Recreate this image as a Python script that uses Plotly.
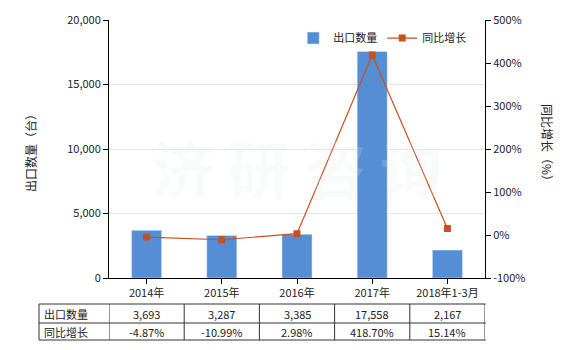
import plotly.graph_objects as go

categories = ["2014年", "2015年", "2016年", "2017年", "2018年1-3月"]
export_qty = [3693, 3287, 3385, 17558, 2167]
yoy_growth = [-4.87, -10.99, 2.98, 418.70, 15.14]
qty_labels = ["3,693", "3,287", "3,385", "17,558", "2,167"]
yoy_labels = ["-4.87%", "-10.99%", "2.98%", "418.70%", "15.14%"]
y2_ticks = [-100, 0, 100, 200, 300, 400, 500]

FONT = "Noto Sans CJK SC"
BAR_COLOR = "#558ed5"
LINE_COLOR = "#c8501e"

fig = go.Figure()
fig.add_trace(go.Bar(x=list(range(5)), y=export_qty, name="出口数量",
                     marker_color=BAR_COLOR, width=0.4))
fig.add_trace(go.Scatter(x=list(range(5)), y=yoy_growth, name="同比增长", yaxis="y2",
                         mode="lines+markers",
                         line=dict(color=LINE_COLOR, width=1.2),
                         marker=dict(symbol="square", size=7, color=LINE_COLOR)))

fig.update_layout(
    width=580, height=350,
    margin=dict(l=109, r=95, t=20, b=72),
    plot_bgcolor="white", paper_bgcolor="white",
    font=dict(family=FONT, size=11, color="#222"),
    showlegend=True,
    legend=dict(orientation="h", x=0.49, y=0.93, xanchor="left", yanchor="middle",
                bgcolor="rgba(0,0,0,0)", font=dict(size=11), itemwidth=30),
    xaxis=dict(tickmode="array", tickvals=list(range(5)), ticktext=categories,
               range=[-0.5, 4.5], showline=True, linecolor="black", linewidth=1,
               ticks="outside", ticklen=5, tickcolor="black", showgrid=False),
    yaxis=dict(range=[0, 20000], tickvals=[0, 5000, 10000, 15000, 20000],
               tickformat=",d", showline=True, linecolor="black", linewidth=1,
               ticks="outside", ticklen=5, tickcolor="black",
               showgrid=True, gridcolor="#e6e6e6", zeroline=False),
    yaxis2=dict(range=[-100, 500], tickmode="array", tickvals=y2_ticks,
                ticktext=[f"{v}%" for v in y2_ticks], overlaying="y", side="right",
                showline=True, linecolor="black", linewidth=1,
                ticks="outside", ticklen=5, tickcolor="black",
                showgrid=False, zeroline=False),
)

annotations = []
# faint watermark
annotations.append(dict(text="<b>济 研 咨 询</b>", xref="paper", yref="paper", x=0.5, y=0.43,
                        xanchor="center", yanchor="middle", showarrow=False,
                        font=dict(size=62, color="rgba(225,235,235,0.2)")))
annotations.append(dict(text="出口数量（台）", xref="paper", yref="paper",
                        x=(30 - 109) / 376, y=1 - (150 - 20) / 258, textangle=-90,
                        xanchor="center", yanchor="middle",
                        showarrow=False, font=dict(size=12)))
annotations.append(dict(text="同比增长（%）", xref="paper", yref="paper",
                        x=(548 - 109) / 376, y=1 - (145 - 20) / 258, textangle=90,
                        xanchor="center", yanchor="middle",
                        showarrow=False, font=dict(size=12)))

# table
y_top = (278 - 304) / 258
y_mid = (278 - 323) / 258
y_bot = (278 - 340) / 258
x_left = (39 - 109) / 376
r1 = (y_top + y_mid) / 2
r2 = (y_mid + y_bot) / 2
annotations.append(dict(text="出口数量", xref="paper", yref="paper", x=x_left + 0.008, y=r1,
                        xanchor="left", yanchor="middle", showarrow=False))
annotations.append(dict(text="同比增长", xref="paper", yref="paper", x=x_left + 0.008, y=r2,
                        xanchor="left", yanchor="middle", showarrow=False))
for i in range(5):
    annotations.append(dict(text=qty_labels[i], xref="x", yref="paper", x=i, y=r1,
                            xanchor="center", yanchor="middle", showarrow=False))
    annotations.append(dict(text=yoy_labels[i], xref="x", yref="paper", x=i, y=r2,
                            xanchor="center", yanchor="middle", showarrow=False))

shapes = []
line_style = dict(color="#333", width=1)
for yy in (y_top, y_mid, y_bot):
    shapes.append(dict(type="line", xref="paper", yref="paper", x0=x_left, x1=1.002,
                       y0=yy, y1=yy, line=line_style))
shapes.append(dict(type="line", xref="paper", yref="paper", x0=x_left, x1=x_left,
                   y0=y_top, y1=y_bot, line=line_style))
for b in [-0.5, 0.5, 1.5, 2.5, 3.5, 4.5]:
    shapes.append(dict(type="line", xref="x", yref="paper", x0=b, x1=b,
                       y0=y_top, y1=y_bot, line=line_style))

fig.update_layout(annotations=annotations, shapes=shapes)
fig.write_html("out.html")
